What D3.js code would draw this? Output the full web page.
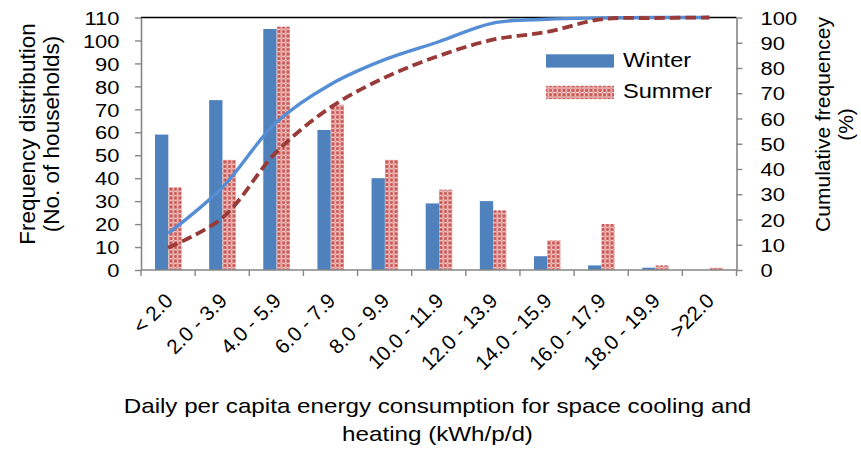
<!DOCTYPE html>
<html>
<head>
<meta charset="utf-8">
<script src="https://cdn.jsdelivr.net/npm/d3@7"></script>
<style>
  body { margin: 0; background: #fff; }
  svg { display: block; font-family: "Liberation Sans", Arial, sans-serif; }
</style>
</head>
<body>
<div id="chart"></div>
<script>
// energy use bins (kWh/p/d) and household counts
const categories = ["< 2.0", "2.0 - 3.9", "4.0 - 5.9", "6.0 - 7.9", "8.0 - 9.9", "10.0 - 11.9",
  "12.0 - 13.9", "14.0 - 15.9", "16.0 - 17.9", "18.0 - 19.9", ">22.0"];
const winter = [59, 74, 105, 61, 40, 29, 30, 6, 2, 1, 0];
const summer = [36, 48, 106, 72, 48, 35, 26, 13, 20, 2, 1];
// cumulative frequency (%)
const winterCum = [14.5, 32.7, 58.5, 73.5, 83.3, 90.4, 97.8, 99.3, 99.8, 100, 100];
const summerCum = [8.8, 20.6, 46.7, 64.4, 76.2, 84.8, 91.2, 94.3, 99.3, 99.8, 100];
const leftTicks = [0, 10, 20, 30, 40, 50, 60, 70, 80, 90, 100, 110];
const rightTicks = [0, 10, 20, 30, 40, 50, 60, 70, 80, 90, 100];
const legendItems = ["Winter", "Summer"];

const width = 861, height = 451;
const sx = 1.18; // horizontal text in the source comes out a bit wide

const svg = d3.select("#chart").append("svg")
  .attr("width", width)
  .attr("height", height);

// red/white confetti fill for the summer bars
const pat = svg.append("defs").append("pattern")
  .attr("id", "confetti")
  .attr("patternUnits", "userSpaceOnUse")
  .attr("width", 4.5).attr("height", 4.5);
pat.append("rect").attr("width", 4.5).attr("height", 4.5).attr("fill", "#c9524f");
pat.append("rect").attr("x", 1.6).attr("y", 0).attr("width", 1.3).attr("height", 4.5).attr("fill", "#f7e1e0");
pat.append("rect").attr("x", 0).attr("y", 1.6).attr("width", 4.5).attr("height", 1.3).attr("fill", "#f7e1e0");
pat.append("rect").attr("x", 1.6).attr("y", 1.6).attr("width", 1.3).attr("height", 1.3).attr("fill", "#d8706d");

const x = d3.scaleBand()
  .domain(categories)
  .range([141, 736.5]);
const bw = x.bandwidth();

const y = d3.scaleLinear().domain([0, 110]).range([270, 17.5]);
const y2 = d3.scaleLinear().domain([0, 100]).range([270, 17.5]);

// bars
svg.append("g").selectAll("rect")
  .data(categories)
  .join("rect")
    .attr("x", d => x(d) + bw * 0.259)
    .attr("y", (d, i) => y(winter[i]))
    .attr("width", bw * 0.246)
    .attr("height", (d, i) => y(0) - y(winter[i]))
    .attr("fill", "#4f81bd");

svg.append("g").selectAll("rect")
  .data(categories)
  .join("rect")
    .attr("x", d => x(d) + bw * 0.505)
    .attr("y", (d, i) => y(summer[i]))
    .attr("width", bw * 0.246)
    .attr("height", (d, i) => y(0) - y(summer[i]))
    .attr("fill", "url(#confetti)");

// axes
const gray = "#868686";

svg.append("line")
  .attr("x1", 141).attr("x2", 736.5)
  .attr("y1", 17.5).attr("y2", 17.5)
  .attr("stroke", "#000").attr("stroke-width", 1.6);

const yAxis = svg.append("g")
  .attr("transform", "translate(141,0)")
  .call(d3.axisLeft(y).tickValues(leftTicks).tickSize(6).tickSizeOuter(0));
yAxis.select(".domain").attr("stroke", gray).attr("stroke-width", 1.6);
yAxis.selectAll(".tick line").attr("stroke", gray).attr("stroke-width", 1.4);
yAxis.selectAll(".tick text")
  .attr("x", 0).attr("dy", "0.36em")
  .attr("transform", `translate(-21.5,0) scale(${sx},1)`)
  .attr("font-size", 18.6).attr("font-family", null).attr("fill", "#000");

const y2Axis = svg.append("g")
  .attr("transform", "translate(736.5,0)")
  .call(d3.axisRight(y2).tickValues(rightTicks).tickSize(6).tickSizeOuter(0));
y2Axis.select(".domain").attr("stroke", gray).attr("stroke-width", 1.6);
y2Axis.selectAll(".tick line").attr("stroke", gray).attr("stroke-width", 1.4);
y2Axis.selectAll(".tick text")
  .attr("x", 0).attr("dy", "0.36em")
  .attr("transform", `translate(24,0) scale(${sx},1)`)
  .attr("font-size", 18.6).attr("font-family", null).attr("fill", "#000");

// category axis: ticks sit between the bins
svg.append("line")
  .attr("x1", 141).attr("x2", 736.5)
  .attr("y1", 270).attr("y2", 270)
  .attr("stroke", gray).attr("stroke-width", 1.6);
svg.append("g").selectAll("line")
  .data(categories.concat([null]))
  .join("line")
    .attr("x1", (d, i) => 141 + i * bw)
    .attr("x2", (d, i) => 141 + i * bw)
    .attr("y1", 270).attr("y2", 276)
    .attr("stroke", gray).attr("stroke-width", 1.4);

svg.append("g").selectAll("text")
  .data(categories)
  .join("text")
    .attr("text-anchor", "end")
    .attr("font-size", 20.5)
    .attr("transform", d => `translate(${x(d) + bw / 2 + 6},302) rotate(-45)`)
    .text(d => d);

// cumulative curves
const line = d3.line()
  .x((d, i) => x(categories[i]) + bw / 2)
  .y(d => y2(d))
  .curve(d3.curveCatmullRom);

svg.append("path")
  .attr("d", line(winterCum))
  .attr("fill", "none")
  .attr("stroke", "#558ed5")
  .attr("stroke-width", 3.4);

svg.append("path")
  .attr("d", line(summerCum))
  .attr("fill", "none")
  .attr("stroke", "#983a37")
  .attr("stroke-width", 3.8)
  .attr("stroke-dasharray", "10.5,5");

// legend
const legend = svg.append("g").selectAll("g")
  .data(legendItems)
  .join("g")
    .attr("transform", (d, i) => `translate(546,${54.3 + i * 31.5})`);
legend.append("rect")
  .attr("width", 68).attr("height", 13.3)
  .attr("fill", (d, i) => i === 0 ? "#4f81bd" : "url(#confetti)");
legend.append("text")
  .attr("transform", `translate(77,12.6) scale(${sx},1)`)
  .attr("font-size", 20)
  .text(d => d);

// axis titles
const vTitle = (lines, xs, y0, size) => {
  svg.append("g").selectAll("text")
    .data(lines)
    .join("text")
      .attr("text-anchor", "middle")
      .attr("font-size", size)
      .attr("transform", (d, i) => `translate(${xs[i]},${y0}) rotate(-90)`)
      .text(d => d);
};
vTitle(["Frequency distribution", "(No. of households)"], [35, 58.5], 134, 22.5);
vTitle(["Cumulative frequencey", "(%)"], [830, 853], 124.5, 21);

svg.append("g").selectAll("text")
  .data(["Daily per capita energy consumption for space cooling and", "heating (kWh/p/d)"])
  .join("text")
    .attr("text-anchor", "middle")
    .attr("font-size", 20.5)
    .attr("transform", (d, i) => `translate(437.5,${413.3 + i * 28}) scale(${sx},1)`)
    .text(d => d);
</script>
</body>
</html>
